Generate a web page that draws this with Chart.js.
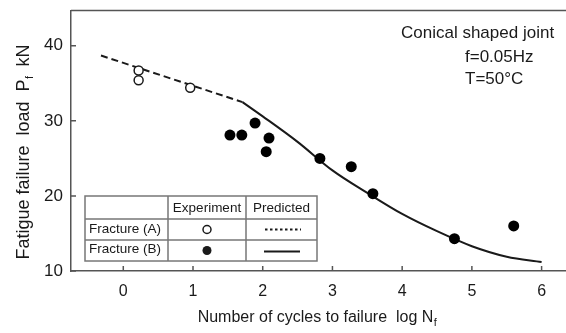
<!DOCTYPE html>
<html>
<head>
<meta charset="utf-8">
<script src="https://cdn.jsdelivr.net/npm/chart.js@4"></script>
<style>
html,body{margin:0;padding:0;background:#fff;}
#wrap{position:relative;width:566px;height:333px;}
</style>
</head>
<body>
<div id="wrap"><canvas id="c" width="566" height="333"></canvas></div>
<script>
// ---- data ----
const xTicks = [0, 1, 2, 3, 4, 5, 6];
const yTicks = [10, 20, 30, 40];
const expA_x = [0.22, 0.22, 0.96];
const expA_y = [36.7, 35.4, 34.4];
const expB_x = [1.53, 1.70, 1.89, 2.05, 2.09, 2.82, 3.27, 3.58, 4.75, 5.60];
const expB_y = [28.1, 28.1, 29.7, 25.9, 27.7, 25.0, 23.9, 20.3, 14.3, 16.0];
const predA_x = [-0.32, 1.71];
const predA_y = [38.7, 32.5];
const predB_x = [1.71, 2.0, 2.5, 3.0, 3.5, 4.0, 4.5, 5.0, 5.5, 6.0];
const predB_y = [32.5, 30.6, 27.2, 23.4, 20.4, 17.6, 15.3, 13.3, 11.9, 11.2];
const annoLines = ["Conical shaped joint", "f=0.05Hz", "T=50°C"];
const legendRows = ["Fracture (A)", "Fracture (B)"];
const legendCols = ["Experiment", "Predicted"];

const pts = (xs, ys) => xs.map((x, i) => ({x: x, y: ys[i]}));
const FONT = "'Liberation Sans', Arial, Helvetica, sans-serif";
const INK = '#1a1a1a';
const AXC = '#555';

const decor = {
  id: 'decor',
  afterDraw(chart) {
    const ctx = chart.ctx;
    const ca = chart.chartArea;
    const xs = chart.scales.x, ys = chart.scales.y;
    ctx.save();
    // top frame line
    ctx.strokeStyle = AXC; ctx.lineWidth = 1.5;
    ctx.beginPath(); ctx.moveTo(ca.left, ca.top); ctx.lineTo(ca.right, ca.top); ctx.stroke();
    // inward ticks
    ctx.beginPath();
    xTicks.forEach(v => { const p = xs.getPixelForValue(v); ctx.moveTo(p, ca.bottom); ctx.lineTo(p, ca.bottom - 5); });
    yTicks.forEach(v => { const p = ys.getPixelForValue(v); ctx.moveTo(ca.left, p); ctx.lineTo(ca.left + 5, p); });
    ctx.stroke();

    ctx.fillStyle = INK;
    // x title
    ctx.font = '16px ' + FONT;
    const xt = 'Number of cycles to failure  log N';
    ctx.textBaseline = 'alphabetic';
    const w1 = ctx.measureText(xt).width;
    ctx.font = '11px ' + FONT;
    const w2 = ctx.measureText('f').width;
    const cx = 317;
    let sx = cx - (w1 + w2) / 2;
    ctx.font = '16px ' + FONT; ctx.textAlign = 'left';
    ctx.fillText(xt, sx, 322);
    ctx.font = '11px ' + FONT;
    ctx.fillText('f', sx + w1 + 0.5, 326);

    // y title rotated
    ctx.save();
    ctx.translate(29, 152);
    ctx.rotate(-Math.PI / 2);
    ctx.font = '18px ' + FONT;
    const a = 'Fatigue failure  load  P';
    const b = '  kN';
    const wa = ctx.measureText(a).width, wb = ctx.measureText(b).width;
    ctx.font = '11px ' + FONT;
    const wf = ctx.measureText('f').width;
    const tot = wa + wf + wb;
    let px = -tot / 2;
    ctx.font = '18px ' + FONT;
    ctx.fillText(a, px, 0);
    ctx.font = '11px ' + FONT;
    ctx.fillText('f', px + wa + 0.5, 4);
    ctx.font = '18px ' + FONT;
    ctx.fillText(b, px + wa + wf, 0);
    ctx.restore();

    // annotation
    ctx.font = '17px ' + FONT;
    ctx.fillText(annoLines[0], 401, 38);
    ctx.fillText(annoLines[1], 465, 62);
    ctx.fillText(annoLines[2], 465, 83.5);

    // legend table
    const L = 85, R = 317, T = 196, B = 261;
    const c1 = 168, c2 = 246, r1 = 219, r2 = 240;
    ctx.fillStyle = '#fff';
    ctx.fillRect(L, T, R - L, B - T);
    ctx.strokeStyle = '#777'; ctx.lineWidth = 1.5;
    ctx.strokeRect(L, T, R - L, B - T);
    ctx.beginPath();
    ctx.moveTo(c1, T); ctx.lineTo(c1, B);
    ctx.moveTo(c2, T); ctx.lineTo(c2, B);
    ctx.moveTo(L, r1); ctx.lineTo(R, r1);
    ctx.moveTo(L, r2); ctx.lineTo(R, r2);
    ctx.stroke();
    ctx.fillStyle = INK;
    ctx.font = '13.5px ' + FONT;
    ctx.textBaseline = 'middle';
    ctx.textAlign = 'center';
    ctx.fillText(legendCols[0], (c1 + c2) / 2, (T + r1) / 2 + 1);
    ctx.fillText(legendCols[1], (c2 + R) / 2, (T + r1) / 2 + 1);
    ctx.textAlign = 'left';
    ctx.fillText(legendRows[0], L + 4, (r1 + r2) / 2);
    ctx.fillText(legendRows[1], L + 4, (r2 + B) / 2 - 1);
    // symbols
    const sxm = (c1 + c2) / 2;
    ctx.strokeStyle = INK; ctx.lineWidth = 1.5;
    ctx.beginPath(); ctx.arc(sxm, (r1 + r2) / 2, 4, 0, Math.PI * 2); ctx.stroke();
    ctx.beginPath(); ctx.arc(sxm, (r2 + B) / 2, 4.5, 0, Math.PI * 2); ctx.fill();
    ctx.lineWidth = 2;
    ctx.setLineDash([2.5, 2.5]);
    ctx.beginPath(); ctx.moveTo(265, (r1 + r2) / 2); ctx.lineTo(301, (r1 + r2) / 2); ctx.stroke();
    ctx.setLineDash([]);
    ctx.beginPath(); ctx.moveTo(264, (r2 + B) / 2 + 1); ctx.lineTo(300, (r2 + B) / 2 + 1); ctx.stroke();
    ctx.restore();
  }
};

new Chart(document.getElementById('c'), {
  type: 'scatter',
  data: {
    datasets: [
      {data: pts(expA_x, expA_y), pointRadius: 4.5, pointBackgroundColor: '#fff', pointBorderColor: INK, pointBorderWidth: 1.5, order: 0},
      {data: pts(expB_x, expB_y), pointRadius: 5.5, pointBackgroundColor: '#000', pointBorderColor: '#000', pointBorderWidth: 0, order: 0},
      {data: pts(predA_x, predA_y), showLine: true, pointRadius: 0, borderColor: INK, borderWidth: 2, borderDash: [7, 4], order: 1},
      {data: pts(predB_x, predB_y), showLine: true, pointRadius: 0, borderColor: INK, borderWidth: 2, cubicInterpolationMode: 'monotone', order: 1}
    ]
  },
  options: {
    responsive: false,
    animation: false,
    devicePixelRatio: 1,
    layout: {autoPadding: false, padding: {top: 10.5, right: 0, left: 0, bottom: 0}},
    plugins: {legend: {display: false}, tooltip: {enabled: false}},
    scales: {
      x: {
        type: 'linear', min: -0.75, max: 6.35,
        afterBuildTicks: s => { s.ticks = xTicks.map(v => ({value: v})); },
        afterFit: s => { s.height = 62; s.paddingLeft = 0; s.paddingRight = 0; },
        grid: {display: false, drawTicks: false},
        border: {display: true, color: AXC, width: 1.5},
        ticks: {color: INK, font: {family: FONT, size: 16}, padding: 11, maxRotation: 0}
      },
      y: {
        type: 'linear', min: 10, max: 44.7,
        afterBuildTicks: s => { s.ticks = yTicks.map(v => ({value: v})); },
        afterFit: s => { s.width = 71; s.paddingTop = 0; s.paddingBottom = 0; },
        grid: {display: false, drawTicks: false},
        border: {display: true, color: AXC, width: 1.5},
        ticks: {color: INK, font: {family: FONT, size: 17}, padding: 8}
      }
    }
  },
  plugins: [decor]
});
</script>
</body>
</html>
